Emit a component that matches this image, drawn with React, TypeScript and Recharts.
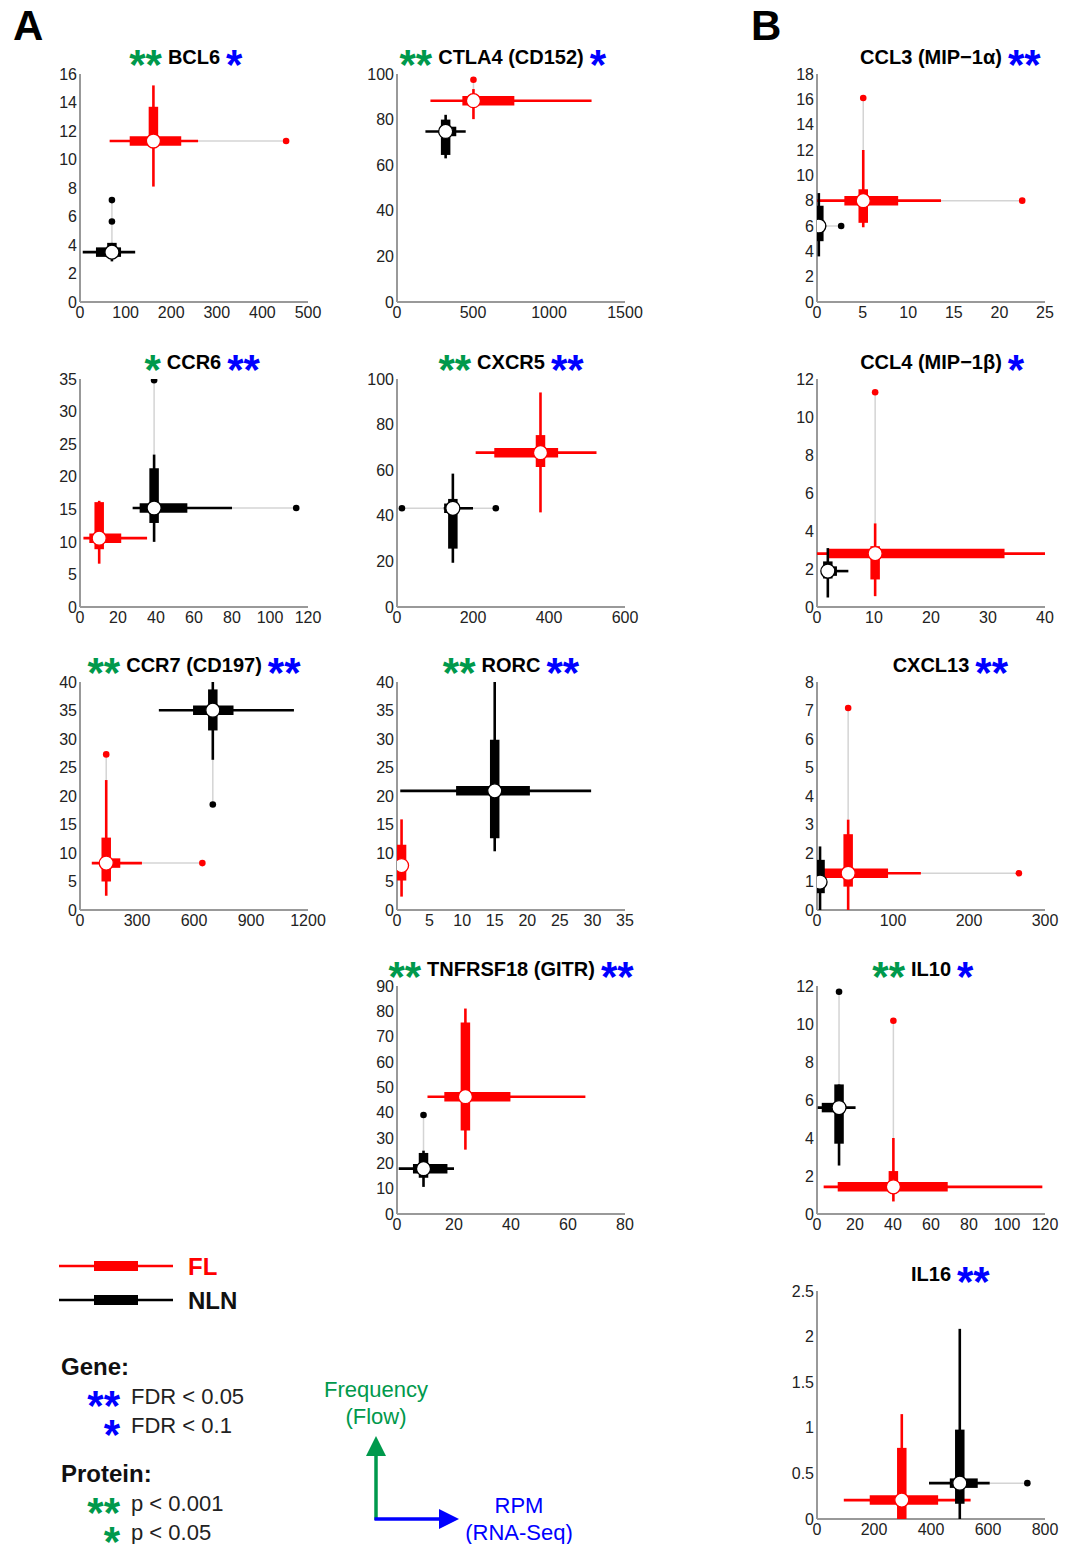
import React from "react";
import { ScatterChart, Scatter, XAxis, YAxis } from "recharts";

const FONT = "'Liberation Sans', Arial, Helvetica, sans-serif";
const RED = "#ff0000";
const BLACK = "#000000";
const GREEN = "#00994c";
const BLUE = "#0000ff";
const GRAY = "#d4d4d4";

// each stats array: [low whisker, q1, median, q3, high whisker]
// x = RPM (RNA-Seq), y = frequency (flow)

const BCL6_XTICKS = [0, 100, 200, 300, 400, 500];
const BCL6_YTICKS = [0, 2, 4, 6, 8, 10, 12, 14, 16];
const BCL6_FL_X = [65, 109, 161, 222, 259];
const BCL6_FL_Y = [8.1, 11.0, 11.3, 13.7, 15.2];
const BCL6_FL_OUTX = [452];
const BCL6_NLN_X = [6, 35, 70, 90, 121];
const BCL6_NLN_Y = [2.85, 3.3, 3.5, 4.15, 4.15];
const BCL6_NLN_OUTY = [5.65, 7.15];

const CTLA4_XTICKS = [0, 500, 1000, 1500];
const CTLA4_YTICKS = [0, 20, 40, 60, 80, 100];
const CTLA4_FL_X = [220, 430, 503, 772, 1280];
const CTLA4_FL_Y = [80.2, 86.5, 88.3, 90, 93.4];
const CTLA4_FL_OUTY = [97.5];
const CTLA4_NLN_X = [187, 285, 320, 390, 452];
const CTLA4_NLN_Y = [63, 64.5, 74.8, 80, 82.1];

const CCL3_XTICKS = [0, 5, 10, 15, 20, 25];
const CCL3_YTICKS = [0, 2, 4, 6, 8, 10, 12, 14, 16, 18];
const CCL3_FL_X = [0, 3.0, 5.07, 8.9, 13.6];
const CCL3_FL_Y = [5.9, 6.25, 8.0, 8.9, 12.0];
const CCL3_FL_OUTX = [22.5];
const CCL3_FL_OUTY = [16.1];
const CCL3_NLN_X = [0, 0, 0.2, 0.55, 1.0];
const CCL3_NLN_Y = [3.6, 4.8, 6.0, 7.6, 8.6];
const CCL3_NLN_OUTX = [2.65];

const CCR6_XTICKS = [0, 20, 40, 60, 80, 100, 120];
const CCR6_YTICKS = [0, 5, 10, 15, 20, 25, 30, 35];
const CCR6_FL_X = [1.8, 4.9, 10.1, 21.7, 35.3];
const CCR6_FL_Y = [6.65, 8.87, 10.57, 16.1, 16.3];
const CCR6_NLN_X = [27.7, 31.4, 39, 56.5, 80];
const CCR6_NLN_Y = [10.0, 12.9, 15.2, 21.3, 23.4];
const CCR6_NLN_OUTX = [113.8];
const CCR6_NLN_OUTY = [34.8];

const CXCR5_XTICKS = [0, 200, 400, 600];
const CXCR5_YTICKS = [0, 20, 40, 60, 80, 100];
const CXCR5_FL_X = [207, 256, 377.6, 424, 525];
const CXCR5_FL_Y = [41.5, 61.4, 67.7, 75.4, 94.1];
const CXCR5_NLN_X = [123, 124, 147, 160, 200];
const CXCR5_NLN_Y = [19.4, 25.6, 43.3, 47.4, 58.5];
const CXCR5_NLN_OUTX = [13, 260];

const CCL4_XTICKS = [0, 10, 20, 30, 40];
const CCL4_YTICKS = [0, 2, 4, 6, 8, 10, 12];
const CCL4_FL_X = [0, 1.9, 10.2, 32.9, 40];
const CCL4_FL_Y = [0.57, 1.45, 2.81, 3.2, 4.4];
const CCL4_FL_OUTY = [11.3];
const CCL4_NLN_X = [0.9, 1.2, 1.9, 3.5, 5.5];
const CCL4_NLN_Y = [0.5, 1.5, 1.89, 2.4, 3.1];

const CCR7_XTICKS = [0, 300, 600, 900, 1200];
const CCR7_YTICKS = [0, 5, 10, 15, 20, 25, 30, 35, 40];
const CCR7_FL_X = [62, 115, 138, 212, 326];
const CCR7_FL_Y = [2.5, 5.0, 8.23, 12.7, 22.8];
const CCR7_FL_OUTX = [644];
const CCR7_FL_OUTY = [27.3];
const CCR7_NLN_X = [415, 595, 699, 808, 1126];
const CCR7_NLN_Y = [26.35, 31.5, 35.05, 38.7, 40];
const CCR7_NLN_OUTY = [18.5];

const RORC_XTICKS = [0, 5, 10, 15, 20, 25, 30, 35];
const RORC_YTICKS = [0, 5, 10, 15, 20, 25, 30, 35, 40];
const RORC_FL_X = [0, 0, 0.7, 1.3, 1.3];
const RORC_FL_Y = [2.35, 5.17, 7.8, 11.45, 15.9];
const RORC_NLN_X = [0.5, 9.07, 15, 20.4, 29.8];
const RORC_NLN_Y = [10.3, 12.6, 20.9, 29.85, 40];

const CXCL13_XTICKS = [0, 100, 200, 300];
const CXCL13_YTICKS = [0, 1, 2, 3, 4, 5, 6, 7, 8];
const CXCL13_FL_X = [3.5, 8.8, 41, 93.5, 136.7];
const CXCL13_FL_Y = [0, 0.82, 1.29, 2.66, 3.17];
const CXCL13_FL_OUTX = [265.6];
const CXCL13_FL_OUTY = [7.09];
const CXCL13_NLN_X = [0, 0.5, 4, 5, 6];
const CXCL13_NLN_Y = [0, 0.59, 0.98, 1.76, 2.23];

const GITR_XTICKS = [0, 20, 40, 60, 80];
const GITR_YTICKS = [0, 10, 20, 30, 40, 50, 60, 70, 80, 90];
const GITR_FL_X = [10.7, 16.6, 24, 39.8, 66.1];
const GITR_FL_Y = [25.4, 33, 46.3, 75.6, 81.1];
const GITR_NLN_X = [0.6, 5.6, 9.3, 17.7, 20];
const GITR_NLN_Y = [10.7, 14.3, 17.9, 24.1, 25];
const GITR_NLN_OUTY = [39.1];

const IL10_XTICKS = [0, 20, 40, 60, 80, 100, 120];
const IL10_YTICKS = [0, 2, 4, 6, 8, 10, 12];
const IL10_FL_X = [3.5, 10.9, 40.2, 68.8, 118.6];
const IL10_FL_Y = [0.66, 1.13, 1.43, 2.26, 4.0];
const IL10_FL_OUTY = [10.17];
const IL10_NLN_X = [0.35, 2.5, 11.6, 14, 20.3];
const IL10_NLN_Y = [2.55, 3.7, 5.6, 6.82, 6.82];
const IL10_NLN_OUTY = [11.7];

const IL16_XTICKS = [0, 200, 400, 600, 800];
const IL16_YTICKS = [0, 0.5, 1, 1.5, 2, 2.5];
const IL16_FL_X = [94, 185, 297.5, 425, 539];
const IL16_FL_Y = [0, 0, 0.207, 0.78, 1.15];
const IL16_NLN_X = [393, 466, 501, 564, 606];
const IL16_NLN_Y = [0, 0.167, 0.393, 0.98, 2.085];
const IL16_NLN_OUTX = [738];

type Group = { x: number[]; y: number[]; outX: number[]; outY: number[] };
type PanelDef = {
  name: string;
  protein: string;
  gene: string;
  col: number;
  row: number;
  xTicks: number[];
  yTicks: number[];
  fl: Group;
  nln: Group;
};

const grp = (x: number[], y: number[], outX: number[] = [], outY: number[] = []): Group => ({ x, y, outX, outY });

const PANELS: PanelDef[] = [
  { name: "BCL6", protein: "**", gene: "*", col: 0, row: 0, xTicks: BCL6_XTICKS, yTicks: BCL6_YTICKS,
    fl: grp(BCL6_FL_X, BCL6_FL_Y, BCL6_FL_OUTX), nln: grp(BCL6_NLN_X, BCL6_NLN_Y, [], BCL6_NLN_OUTY) },
  { name: "CTLA4 (CD152)", protein: "**", gene: "*", col: 1, row: 0, xTicks: CTLA4_XTICKS, yTicks: CTLA4_YTICKS,
    fl: grp(CTLA4_FL_X, CTLA4_FL_Y, [], CTLA4_FL_OUTY), nln: grp(CTLA4_NLN_X, CTLA4_NLN_Y) },
  { name: "CCL3 (MIP\u22121\u03b1)", protein: "", gene: "**", col: 2, row: 0, xTicks: CCL3_XTICKS, yTicks: CCL3_YTICKS,
    fl: grp(CCL3_FL_X, CCL3_FL_Y, CCL3_FL_OUTX, CCL3_FL_OUTY), nln: grp(CCL3_NLN_X, CCL3_NLN_Y, CCL3_NLN_OUTX) },
  { name: "CCR6", protein: "*", gene: "**", col: 0, row: 1, xTicks: CCR6_XTICKS, yTicks: CCR6_YTICKS,
    fl: grp(CCR6_FL_X, CCR6_FL_Y), nln: grp(CCR6_NLN_X, CCR6_NLN_Y, CCR6_NLN_OUTX, CCR6_NLN_OUTY) },
  { name: "CXCR5", protein: "**", gene: "**", col: 1, row: 1, xTicks: CXCR5_XTICKS, yTicks: CXCR5_YTICKS,
    fl: grp(CXCR5_FL_X, CXCR5_FL_Y), nln: grp(CXCR5_NLN_X, CXCR5_NLN_Y, CXCR5_NLN_OUTX) },
  { name: "CCL4 (MIP\u22121\u03b2)", protein: "", gene: "*", col: 2, row: 1, xTicks: CCL4_XTICKS, yTicks: CCL4_YTICKS,
    fl: grp(CCL4_FL_X, CCL4_FL_Y, [], CCL4_FL_OUTY), nln: grp(CCL4_NLN_X, CCL4_NLN_Y) },
  { name: "CCR7 (CD197)", protein: "**", gene: "**", col: 0, row: 2, xTicks: CCR7_XTICKS, yTicks: CCR7_YTICKS,
    fl: grp(CCR7_FL_X, CCR7_FL_Y, CCR7_FL_OUTX, CCR7_FL_OUTY), nln: grp(CCR7_NLN_X, CCR7_NLN_Y, [], CCR7_NLN_OUTY) },
  { name: "RORC", protein: "**", gene: "**", col: 1, row: 2, xTicks: RORC_XTICKS, yTicks: RORC_YTICKS,
    fl: grp(RORC_FL_X, RORC_FL_Y), nln: grp(RORC_NLN_X, RORC_NLN_Y) },
  { name: "CXCL13", protein: "", gene: "**", col: 2, row: 2, xTicks: CXCL13_XTICKS, yTicks: CXCL13_YTICKS,
    fl: grp(CXCL13_FL_X, CXCL13_FL_Y, CXCL13_FL_OUTX, CXCL13_FL_OUTY), nln: grp(CXCL13_NLN_X, CXCL13_NLN_Y) },
  { name: "TNFRSF18 (GITR)", protein: "**", gene: "**", col: 1, row: 3, xTicks: GITR_XTICKS, yTicks: GITR_YTICKS,
    fl: grp(GITR_FL_X, GITR_FL_Y), nln: grp(GITR_NLN_X, GITR_NLN_Y, [], GITR_NLN_OUTY) },
  { name: "IL10", protein: "**", gene: "*", col: 2, row: 3, xTicks: IL10_XTICKS, yTicks: IL10_YTICKS,
    fl: grp(IL10_FL_X, IL10_FL_Y, [], IL10_FL_OUTY), nln: grp(IL10_NLN_X, IL10_NLN_Y, [], IL10_NLN_OUTY) },
  { name: "IL16", protein: "", gene: "**", col: 2, row: 4, xTicks: IL16_XTICKS, yTicks: IL16_YTICKS,
    fl: grp(IL16_FL_X, IL16_FL_Y), nln: grp(IL16_NLN_X, IL16_NLN_Y, IL16_NLN_OUTX) },
];

const PLOT_W = 228;
const PLOT_H = 228;
const COLS = [80, 397, 817];
const ROWS = [74, 379, 682, 986, 1291];
const AX_W = 40;
const AX_H = 30;
const M_TOP = 10;
const M_RIGHT = 25;
const THIN = 2.6;
const THICK = 9.5;

const noShape = () => <g />;

function seg(key: string, x1: number, y1: number, x2: number, y2: number, color: string, width: number) {
  return (
    <Scatter
      key={key}
      data={[{ x: x1, y: y1 }, { x: x2, y: y2 }]}
      line={{ stroke: color, strokeWidth: width }}
      shape={noShape}
      isAnimationActive={false}
    />
  );
}

function groupSeries(g: Group, color: string, id: string) {
  const [x0, x1, xm, x3, x4] = g.x;
  const [y0, y1, ym, y3, y4] = g.y;
  const items: React.ReactElement[] = [];
  const lowX = g.outX.filter((v) => v < x0);
  const highX = g.outX.filter((v) => v > x4);
  const lowY = g.outY.filter((v) => v < y0);
  const highY = g.outY.filter((v) => v > y4);
  if (lowX.length) items.push(seg(id + "cxl", Math.min(...lowX), ym, x0, ym, GRAY, 1.5));
  if (highX.length) items.push(seg(id + "cxh", x4, ym, Math.max(...highX), ym, GRAY, 1.5));
  if (lowY.length) items.push(seg(id + "cyl", xm, Math.min(...lowY), xm, y0, GRAY, 1.5));
  if (highY.length) items.push(seg(id + "cyh", xm, y4, xm, Math.max(...highY), GRAY, 1.5));
  items.push(seg(id + "wx", x0, ym, x4, ym, color, THIN));
  items.push(seg(id + "wy", xm, y0, xm, y4, color, THIN));
  items.push(seg(id + "bx", x1, ym, x3, ym, color, THICK));
  items.push(seg(id + "by", xm, y1, xm, y3, color, THICK));
  const outs = [...g.outX.map((x) => ({ x, y: ym })), ...g.outY.map((y) => ({ x: xm, y }))];
  if (outs.length) {
    items.push(
      <Scatter
        key={id + "out"}
        data={outs}
        isAnimationActive={false}
        shape={(p: any) => <circle cx={p.cx} cy={p.cy} r={3.3} fill={color} />}
      />
    );
  }
  items.push(
    <Scatter
      key={id + "med"}
      data={[{ x: xm, y: ym }]}
      isAnimationActive={false}
      shape={(p: any) => <circle cx={p.cx} cy={p.cy} r={7} fill="#ffffff" stroke={color} strokeWidth={1.3} />}
    />
  );
  return items;
}

const tickStyle = { fontSize: 16, fill: "#222", fontFamily: FONT };

function Panel({ p }: { p: PanelDef }) {
  const left = COLS[p.col];
  const top = ROWS[p.row];
  const cx = left + PLOT_W / 2;
  const starBase: React.CSSProperties = {
    position: "absolute",
    top: -1,
    fontSize: 42,
    lineHeight: "42px",
    fontWeight: 700,
    whiteSpace: "nowrap",
  };
  return (
    <>
      <div
        style={{
          position: "absolute",
          left: cx - 250,
          width: 500,
          top: top - 29,
          height: 24,
          lineHeight: "24px",
          textAlign: "center",
          fontSize: 20,
          fontWeight: 700,
          fontFamily: FONT,
          whiteSpace: "nowrap",
        }}
      >
        <span style={{ position: "relative", display: "inline-block" }}>
          {p.name}
          {p.protein && (
            <span style={{ ...starBase, right: "100%", paddingRight: 6, color: GREEN }}>{p.protein}</span>
          )}
          {p.gene && <span style={{ ...starBase, left: "100%", paddingLeft: 6, color: BLUE }}>{p.gene}</span>}
        </span>
      </div>
      <div style={{ position: "absolute", left: left - AX_W, top: top - M_TOP }}>
        <ScatterChart
          width={AX_W + PLOT_W + M_RIGHT}
          height={M_TOP + PLOT_H + AX_H}
          margin={{ top: M_TOP, right: M_RIGHT, bottom: 0, left: 0 }}
        >
          <XAxis
            type="number"
            dataKey="x"
            domain={[0, p.xTicks[p.xTicks.length - 1]]}
            ticks={p.xTicks}
            interval={0}
            allowDataOverflow
            height={AX_H}
            tickLine={false}
            tickSize={5}
            tickMargin={0}
            axisLine={{ stroke: "#999", strokeWidth: 2 }}
            tick={tickStyle}
          />
          <YAxis
            type="number"
            dataKey="y"
            domain={[0, p.yTicks[p.yTicks.length - 1]]}
            ticks={p.yTicks}
            interval={0}
            allowDataOverflow
            width={AX_W}
            tickLine={false}
            tickSize={3}
            tickMargin={0}
            axisLine={{ stroke: "#999", strokeWidth: 2 }}
            tick={tickStyle}
          />
          {groupSeries(p.fl, RED, "fl")}
          {groupSeries(p.nln, BLACK, "nln")}
        </ScatterChart>
      </div>
    </>
  );
}

function Legend() {
  const star = { fontSize: 42, fontWeight: 700, fontFamily: FONT };
  const txt = { fontSize: 22, fontFamily: FONT, fill: "#222" };
  const head = { fontSize: 24, fontWeight: 700, fontFamily: FONT, fill: "#111" };
  return (
    <svg width={1076} height={1544} style={{ position: "absolute", left: 0, top: 0 }}>
      <text x={13} y={40} style={{ fontSize: 42, fontWeight: 700, fontFamily: FONT }}>A</text>
      <text x={751} y={40} style={{ fontSize: 42, fontWeight: 700, fontFamily: FONT }}>B</text>

      <line x1={59} x2={173} y1={1266} y2={1266} stroke={RED} strokeWidth={2.6} />
      <line x1={94} x2={138} y1={1266} y2={1266} stroke={RED} strokeWidth={10} />
      <text x={188} y={1275} style={{ ...head, fill: RED }}>FL</text>
      <line x1={59} x2={173} y1={1300} y2={1300} stroke={BLACK} strokeWidth={2.6} />
      <line x1={94} x2={138} y1={1300} y2={1300} stroke={BLACK} strokeWidth={10} />
      <text x={188} y={1309} style={head}>NLN</text>

      <text x={61} y={1375} style={head}>Gene:</text>
      <text x={120} y={1420} textAnchor="end" style={{ ...star, fill: BLUE }}>**</text>
      <text x={131} y={1404} style={txt}>FDR &lt; 0.05</text>
      <text x={120} y={1449} textAnchor="end" style={{ ...star, fill: BLUE }}>*</text>
      <text x={131} y={1433} style={txt}>FDR &lt; 0.1</text>

      <text x={61} y={1482} style={head}>Protein:</text>
      <text x={120} y={1527} textAnchor="end" style={{ ...star, fill: GREEN }}>**</text>
      <text x={131} y={1511} style={txt}>p &lt; 0.001</text>
      <text x={120} y={1556} textAnchor="end" style={{ ...star, fill: GREEN }}>*</text>
      <text x={131} y={1540} style={txt}>p &lt; 0.05</text>

      <line x1={376} x2={376} y1={1520} y2={1454} stroke={GREEN} strokeWidth={3.5} />
      <polygon points="366,1456 386,1456 376,1436" fill={GREEN} />
      <line x1={374.5} x2={441} y1={1519} y2={1519} stroke={BLUE} strokeWidth={3.5} />
      <polygon points="439,1509 439,1529 459,1519" fill={BLUE} />
      <text x={376} y={1397} textAnchor="middle" style={{ ...txt, fill: GREEN }}>Frequency</text>
      <text x={376} y={1424} textAnchor="middle" style={{ ...txt, fill: GREEN }}>(Flow)</text>
      <text x={519} y={1513} textAnchor="middle" style={{ ...txt, fill: BLUE }}>RPM</text>
      <text x={519} y={1540} textAnchor="middle" style={{ ...txt, fill: BLUE }}>(RNA-Seq)</text>
    </svg>
  );
}

export default function App() {
  return (
    <div
      style={{
        position: "absolute",
        left: 0,
        top: 0,
        width: 1076,
        height: 1544,
        background: "#ffffff",
        fontFamily: FONT,
        overflow: "hidden",
      }}
    >
      <Legend />
      {PANELS.map((p) => (
        <Panel key={p.name} p={p} />
      ))}
    </div>
  );
}
